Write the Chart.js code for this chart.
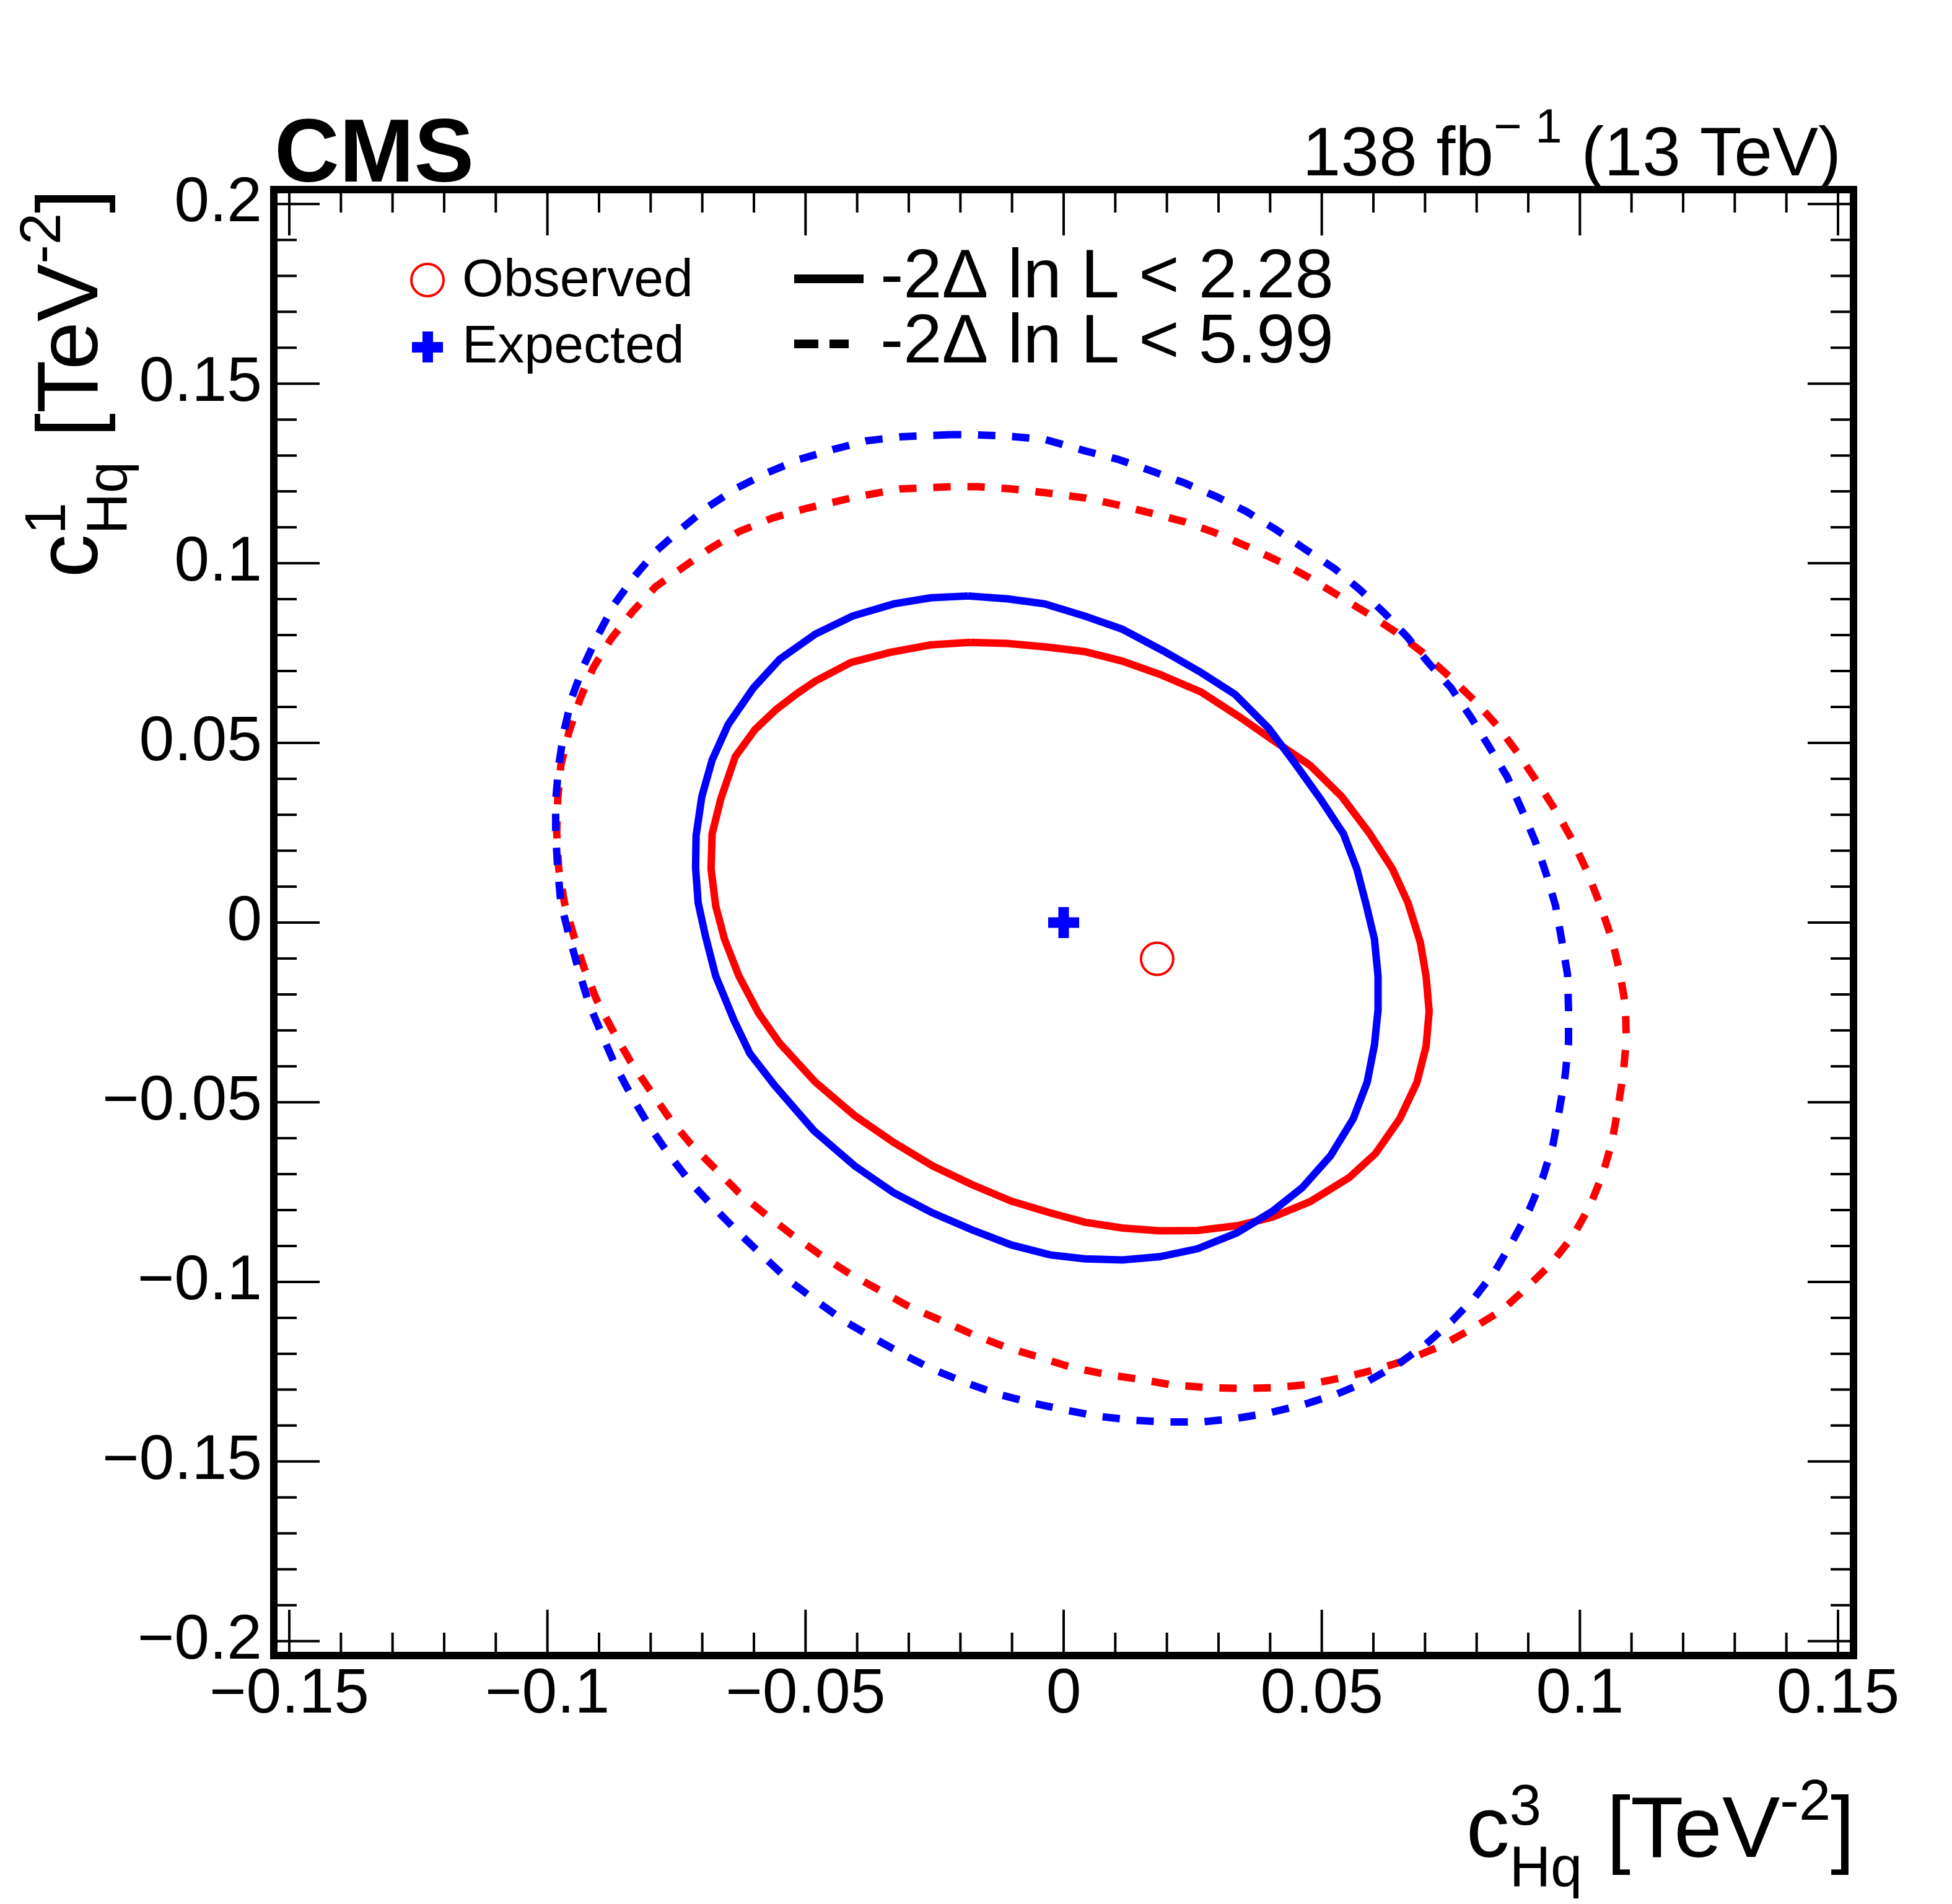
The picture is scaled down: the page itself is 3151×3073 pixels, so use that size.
<!DOCTYPE html>
<html>
<head>
<meta charset="utf-8">
<script src="https://cdn.jsdelivr.net/npm/chart.js@4.4.1/dist/chart.umd.min.js"></script>
<style>
html, body { margin: 0; padding: 0; background: #fff; }
canvas { display: block; }
</style>
</head>
<body>
<canvas id="c" width="3151" height="3073"></canvas>
<script>
// axis ticks
var xTicks = [-0.15, -0.1, -0.05, 0, 0.05, 0.1, 0.15];
var yTicks = [-0.2, -0.15, -0.1, -0.05, 0, 0.05, 0.1, 0.15, 0.2];

// best fit points
var obsBest = [[0.0181, -0.0101]];
var expBest = [[0, 0]];

// -2 dlnL < 2.28, observed (red solid)
var obs228 = [
  [-0.0181, 0.0780], [-0.0257, 0.0773], [-0.0336, 0.0752], [-0.0412, 0.0724], [-0.0481, 0.0672],
  [-0.0515, 0.0639], [-0.0557, 0.0593], [-0.0598, 0.0537], [-0.0636, 0.0462], [-0.0664, 0.0345],
  [-0.0681, 0.0247], [-0.0683, 0.0149], [-0.0674, 0.0046], [-0.0657, -0.0046], [-0.0629, -0.0149],
  [-0.0591, -0.0252], [-0.0550, -0.0336], [-0.0481, -0.0444], [-0.0405, -0.0537], [-0.0329, -0.0612],
  [-0.0254, -0.0677], [-0.0178, -0.0729], [-0.0102, -0.0775], [-0.0026, -0.0808], [0.0041, -0.0834],
  [0.0114, -0.0850], [0.0186, -0.0858], [0.0259, -0.0857], [0.0339, -0.0843], [0.0404, -0.0820],
  [0.0477, -0.0777], [0.0553, -0.0710], [0.0604, -0.0643], [0.0651, -0.0546], [0.0684, -0.0446],
  [0.0702, -0.0345], [0.0708, -0.0247], [0.0702, -0.0149], [0.0691, -0.0056], [0.0667, 0.0055],
  [0.0637, 0.0149], [0.0593, 0.0247], [0.0539, 0.0350], [0.0477, 0.0438], [0.0404, 0.0509],
  [0.0339, 0.0574], [0.0266, 0.0642], [0.0186, 0.0691], [0.0113, 0.0728], [0.0041, 0.0754],
  [-0.0033, 0.0767], [-0.0109, 0.0777], [-0.0181, 0.0780]
];

// -2 dlnL < 2.28, expected (blue solid)
var exp228 = [
  [-0.0185, 0.0909], [-0.0257, 0.0904], [-0.0329, 0.0887], [-0.0409, 0.0853], [-0.0481, 0.0803],
  [-0.0550, 0.0733], [-0.0601, 0.0653], [-0.0650, 0.0551], [-0.0681, 0.0452], [-0.0701, 0.0350],
  [-0.0712, 0.0242], [-0.0713, 0.0153], [-0.0708, 0.0055], [-0.0694, -0.0037], [-0.0674, -0.0149],
  [-0.0639, -0.0271], [-0.0608, -0.0364], [-0.0560, -0.0453], [-0.0484, -0.0579], [-0.0405, -0.0677],
  [-0.0329, -0.0752], [-0.0254, -0.0808], [-0.0178, -0.0855], [-0.0102, -0.0897], [-0.0026, -0.0925],
  [0.0041, -0.0936], [0.0114, -0.0939], [0.0186, -0.0930], [0.0259, -0.0908], [0.0335, -0.0864],
  [0.0404, -0.0804], [0.0462, -0.0738], [0.0517, -0.0649], [0.0561, -0.0546], [0.0588, -0.0444],
  [0.0602, -0.0341], [0.0609, -0.0243], [0.0609, -0.0149], [0.0602, -0.0046], [0.0586, 0.0050],
  [0.0568, 0.0149], [0.0542, 0.0247], [0.0497, 0.0345], [0.0448, 0.0443], [0.0397, 0.0541],
  [0.0332, 0.0635], [0.0266, 0.0696], [0.0193, 0.0756], [0.0113, 0.0817], [0.0041, 0.0853],
  [-0.0037, 0.0887], [-0.0109, 0.0901], [-0.0185, 0.0909]
];

// -2 dlnL < 5.99, observed (red dashed)
var obs599 = [
  [-0.0219, 0.1213], [-0.0316, 0.1207], [-0.0398, 0.1186], [-0.0495, 0.1154], [-0.0564, 0.1126],
  [-0.0629, 0.1088], [-0.0684, 0.1042], [-0.0736, 0.0990], [-0.0791, 0.0934], [-0.0836, 0.0864],
  [-0.0877, 0.0789], [-0.0911, 0.0710], [-0.0936, 0.0625], [-0.0958, 0.0532], [-0.0974, 0.0438],
  [-0.0980, 0.0345], [-0.0982, 0.0251], [-0.0978, 0.0149], [-0.0967, 0.0055], [-0.0949, -0.0037],
  [-0.0929, -0.0126], [-0.0905, -0.0214], [-0.0874, -0.0299], [-0.0839, -0.0387], [-0.0801, -0.0467],
  [-0.0763, -0.0546], [-0.0722, -0.0617], [-0.0677, -0.0682], [-0.0629, -0.0752], [-0.0577, -0.0813],
  [-0.0526, -0.0869], [-0.0471, -0.0925], [-0.0415, -0.0977], [-0.0357, -0.1023], [-0.0298, -0.1070],
  [-0.0236, -0.1108], [-0.0178, -0.1145], [-0.0112, -0.1182], [-0.0047, -0.1210], [0.0015, -0.1238],
  [0.0081, -0.1257], [0.0146, -0.1271], [0.0211, -0.1287], [0.0277, -0.1294], [0.0346, -0.1297],
  [0.0412, -0.1294], [0.0477, -0.1285], [0.0542, -0.1266], [0.0608, -0.1243], [0.0670, -0.1215],
  [0.0731, -0.1178], [0.0790, -0.1131], [0.0848, -0.1080], [0.0895, -0.1019], [0.0942, -0.0953],
  [0.0986, -0.0874], [0.1019, -0.0790], [0.1044, -0.0701], [0.1062, -0.0612], [0.1073, -0.0523],
  [0.1084, -0.0420], [0.1090, -0.0327], [0.1088, -0.0229], [0.1077, -0.0135], [0.1062, -0.0046],
  [0.1040, 0.0046], [0.1015, 0.0139], [0.0986, 0.0228], [0.0953, 0.0312], [0.0917, 0.0392],
  [0.0880, 0.0471], [0.0841, 0.0546], [0.0797, 0.0616], [0.0746, 0.0686], [0.0695, 0.0752],
  [0.0644, 0.0808], [0.0590, 0.0859], [0.0531, 0.0911], [0.0473, 0.0962], [0.0419, 0.1004],
  [0.0357, 0.1046], [0.0295, 0.1084], [0.0233, 0.1116], [0.0168, 0.1140], [0.0103, 0.1163],
  [0.0041, 0.1182], [-0.0033, 0.1196], [-0.0102, 0.1207], [-0.0167, 0.1213], [-0.0219, 0.1213]
];

// -2 dlnL < 5.99, expected (blue dashed)
var exp599 = [
  [-0.0219, 0.1358], [-0.0316, 0.1352], [-0.0381, 0.1341], [-0.0446, 0.1317], [-0.0512, 0.1289],
  [-0.0574, 0.1252], [-0.0632, 0.1210], [-0.0688, 0.1158], [-0.0739, 0.1098], [-0.0791, 0.1032],
  [-0.0832, 0.0962], [-0.0870, 0.0887], [-0.0901, 0.0803], [-0.0930, 0.0714], [-0.0953, 0.0625],
  [-0.0968, 0.0532], [-0.0978, 0.0438], [-0.0984, 0.0340], [-0.0984, 0.0247], [-0.0980, 0.0149],
  [-0.0974, 0.0055], [-0.0958, -0.0037], [-0.0939, -0.0135], [-0.0920, -0.0224], [-0.0894, -0.0313],
  [-0.0867, -0.0402], [-0.0836, -0.0486], [-0.0801, -0.0570], [-0.0763, -0.0649], [-0.0722, -0.0724],
  [-0.0677, -0.0794], [-0.0629, -0.0864], [-0.0581, -0.0930], [-0.0533, -0.0995], [-0.0481, -0.1051],
  [-0.0426, -0.1108], [-0.0371, -0.1154], [-0.0312, -0.1201], [-0.0254, -0.1243], [-0.0191, -0.1280],
  [-0.0126, -0.1313], [-0.0061, -0.1337], [0.0005, -0.1357], [0.0066, -0.1374], [0.0135, -0.1385],
  [0.0201, -0.1390], [0.0266, -0.1390], [0.0335, -0.1380], [0.0400, -0.1364], [0.0466, -0.1341],
  [0.0528, -0.1313], [0.0590, -0.1276], [0.0648, -0.1229], [0.0702, -0.1173], [0.0753, -0.1108],
  [0.0797, -0.1042], [0.0837, -0.0967], [0.0869, -0.0888], [0.0902, -0.0799], [0.0928, -0.0710],
  [0.0948, -0.0617], [0.0960, -0.0523], [0.0971, -0.0430], [0.0978, -0.0336], [0.0978, -0.0243],
  [0.0976, -0.0144], [0.0965, -0.0051], [0.0953, 0.0046], [0.0935, 0.0134], [0.0913, 0.0228],
  [0.0888, 0.0312], [0.0859, 0.0406], [0.0826, 0.0485], [0.0790, 0.0569], [0.0750, 0.0654],
  [0.0706, 0.0724], [0.0666, 0.0794], [0.0623, 0.0859], [0.0575, 0.0925], [0.0524, 0.0986],
  [0.0470, 0.1037], [0.0412, 0.1093], [0.0354, 0.1144], [0.0295, 0.1186], [0.0233, 0.1224],
  [0.0172, 0.1256], [0.0106, 0.1289], [0.0041, 0.1313], [-0.0037, 0.1345], [-0.0119, 0.1355],
  [-0.0185, 0.1358], [-0.0219, 0.1358]
];

var RED = '#ff0000';
var BLUE = '#0000ff';
var FONT = '"Liberation Sans", Arial, Helvetica, sans-serif';

function pts(arr) {
    return arr.map(function (p) { return { x: p[0], y: p[1] }; });
}

function fmtTick(v) {
    if (Math.abs(v) < 1e-9) return '0';
    return (v < 0 ? '\u2212' : '') + String(Math.abs(v));
}

// draw a run of text pieces (for sub/superscripts), stack = share x with previous piece
function drawRich(ctx, parts, x, y, align) {
    var cx = 0, prevStart = 0, prevW = 0, items = [];
    parts.forEach(function (p) {
        ctx.font = (p.bold ? 'bold ' : '') + p.size + 'px ' + FONT;
        var w = ctx.measureText(p.t).width;
        var start;
        if (p.stack) {
            start = prevStart;
            cx = Math.max(prevStart + prevW, start + w);
        } else {
            start = cx;
            cx += w;
        }
        items.push({ p: p, start: start });
        prevStart = start;
        prevW = w;
    });
    var x0 = align === 'right' ? x - cx : x;
    ctx.textAlign = 'left';
    ctx.textBaseline = 'alphabetic';
    items.forEach(function (it) {
        ctx.font = (it.p.bold ? 'bold ' : '') + it.p.size + 'px ' + FONT;
        ctx.fillText(it.p.t, x0 + it.start, y + (it.p.dy || 0));
    });
}

var framePlugin = {
    id: 'frame',
    afterDraw: function (chart) {
        var ctx = chart.ctx, a = chart.chartArea;
        var xs = chart.scales.x, ys = chart.scales.y;
        ctx.save();
        ctx.strokeStyle = '#000';
        ctx.lineWidth = 4;
        ctx.beginPath();
        for (var i = -15; i <= 15; i++) {
            var px = xs.getPixelForValue(i / 100);
            var len = i % 5 === 0 ? 74 : 37;
            ctx.moveTo(px, a.bottom); ctx.lineTo(px, a.bottom - len);
            ctx.moveTo(px, a.top); ctx.lineTo(px, a.top + len);
        }
        for (var j = -20; j <= 20; j++) {
            var py = ys.getPixelForValue(j / 100);
            var len2 = j % 5 === 0 ? 74 : 37;
            ctx.moveTo(a.left, py); ctx.lineTo(a.left + len2, py);
            ctx.moveTo(a.right, py); ctx.lineTo(a.right - len2, py);
        }
        ctx.stroke();
        ctx.lineWidth = 12;
        ctx.strokeRect(a.left, a.top, a.right - a.left, a.bottom - a.top);
        ctx.restore();
    }
};

var textPlugin = {
    id: 'texts',
    afterDraw: function (chart) {
        var ctx = chart.ctx;
        ctx.save();
        ctx.fillStyle = '#000';

        // CMS label and lumi
        drawRich(ctx, [{ t: 'CMS', size: 145, bold: true }], 443, 293, 'left');
        drawRich(ctx, [
            { t: '138 fb', size: 111 },
            { t: '\u2212 1', size: 78, dy: -53 },
            { t: ' (13 TeV)', size: 111 }
        ], 2972, 283, 'right');

        // axis titles
        var title = [
            { t: 'c', size: 140 },
            { t: '3', size: 92, dy: -52 },
            { t: 'Hq', size: 92, dy: 48, stack: true },
            { t: ' [TeV', size: 140 },
            { t: '-2', size: 92, dy: -60 },
            { t: ']', size: 140 }
        ];
        drawRich(ctx, title, 2994, 2997, 'right');

        var ytitle = title.slice();
        ytitle[1] = { t: '1', size: 92, dy: -52 };
        ctx.save();
        ctx.translate(157, 305);
        ctx.rotate(-Math.PI / 2);
        drawRich(ctx, ytitle, 0, 0, 'right');
        ctx.restore();

        // legend, left column
        ctx.strokeStyle = RED;
        ctx.lineWidth = 4;
        ctx.beginPath();
        ctx.arc(690, 452, 26, 0, Math.PI * 2);
        ctx.stroke();
        ctx.fillStyle = BLUE;
        ctx.fillRect(665, 552, 50, 17);
        ctx.fillRect(682, 535, 17, 50);
        ctx.fillStyle = '#000';
        drawRich(ctx, [{ t: 'Observed', size: 86 }], 746, 478, 'left');
        drawRich(ctx, [{ t: 'Expected', size: 86 }], 746, 585, 'left');

        // legend, right column
        ctx.strokeStyle = '#000';
        ctx.lineWidth = 14;
        ctx.beginPath();
        ctx.moveTo(1282, 450); ctx.lineTo(1394, 450);
        ctx.stroke();
        ctx.setLineDash([39, 18]);
        ctx.beginPath();
        ctx.moveTo(1282, 555); ctx.lineTo(1370, 555);
        ctx.stroke();
        ctx.setLineDash([]);
        drawRich(ctx, [{ t: '-2\u0394 ln L < 2.28', size: 112 }], 1421, 480, 'left');
        drawRich(ctx, [{ t: '-2\u0394 ln L < 5.99', size: 112 }], 1421, 585, 'left');

        ctx.restore();
    }
};

function contour(label, data, color, dashed, order) {
    return {
        label: label,
        data: pts(data),
        showLine: true,
        borderColor: color,
        backgroundColor: color,
        borderWidth: 12,
        borderDash: dashed ? [28, 27] : [],
        pointRadius: 0,
        tension: 0,
        fill: false,
        order: order
    };
}

var ctx = document.getElementById('c').getContext('2d');
var chart = new Chart(ctx, {
    type: 'scatter',
    data: {
        datasets: [
            {
                label: 'Observed',
                data: pts(obsBest),
                pointStyle: 'circle',
                pointRadius: 26,
                borderColor: RED,
                backgroundColor: 'rgba(0,0,0,0)',
                borderWidth: 4,
                order: 0
            },
            {
                label: 'Expected',
                data: pts(expBest),
                pointStyle: 'cross',
                pointRadius: 25,
                borderColor: BLUE,
                backgroundColor: BLUE,
                borderWidth: 17,
                order: 0
            },
            contour('exp 2.28', exp228, BLUE, false, 1),
            contour('exp 5.99', exp599, BLUE, true, 1),
            contour('obs 2.28', obs228, RED, false, 2),
            contour('obs 5.99', obs599, RED, true, 2)
        ]
    },
    options: {
        responsive: false,
        devicePixelRatio: 1,
        animation: false,
        layout: { padding: { left: 0, top: 306, right: 159, bottom: 0 } },
        plugins: {
            legend: { display: false },
            tooltip: { enabled: false },
            title: { display: false }
        },
        events: [],
        scales: {
            x: {
                type: 'linear',
                min: -0.153,
                max: 0.153,
                grid: { display: false, drawTicks: false },
                border: { display: false },
                afterBuildTicks: function (scale) {
                    scale.ticks = xTicks.map(function (v) { return { value: v }; });
                },
                afterFit: function (scale) { scale.height = 401; },
                ticks: {
                    autoSkip: false,
                    maxRotation: 0,
                    padding: 13,
                    color: '#000',
                    font: { family: FONT, size: 102, lineHeight: 1 },
                    callback: function (v) { return fmtTick(v); }
                }
            },
            y: {
                type: 'linear',
                min: -0.204,
                max: 0.204,
                grid: { display: false, drawTicks: false },
                border: { display: false },
                afterBuildTicks: function (scale) {
                    scale.ticks = yTicks.map(function (v) { return { value: v }; });
                },
                afterFit: function (scale) { scale.width = 442; },
                ticks: {
                    autoSkip: false,
                    padding: 19,
                    color: '#000',
                    font: { family: FONT, size: 102, lineHeight: 1 },
                    callback: function (v) { return fmtTick(v); }
                }
            }
        }
    },
    plugins: [framePlugin, textPlugin]
});
</script>
</body>
</html>
